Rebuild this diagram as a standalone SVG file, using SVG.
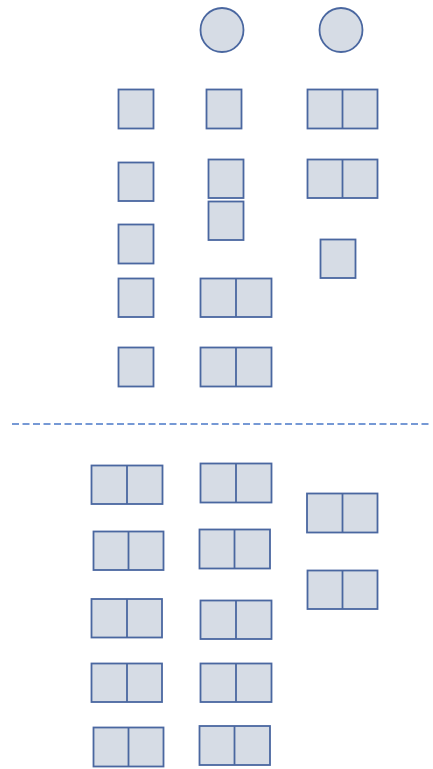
<svg xmlns="http://www.w3.org/2000/svg" width="433" height="769" viewBox="0 0 433 769">
<style>
.b{fill:#D6DCE5;stroke:#4A67A0;stroke-width:1.8}
.d{fill:none;stroke:#4A67A0;stroke-width:1.8}
.sep{stroke:#4A78C8;stroke-width:1.3;stroke-dasharray:7 3.5;fill:none}
</style>
<rect width="433" height="769" fill="#fff"/>
<g id="circle1"><ellipse class="b" cx="222" cy="30" rx="21.5" ry="22"/></g>
<g id="circle2"><ellipse class="b" cx="341" cy="30" rx="21.5" ry="22"/></g>

<g id="c1r1"><rect class="b" x="118.5" y="89.5" width="35" height="39"/></g>
<g id="c1r2"><rect class="b" x="118.5" y="162.5" width="35" height="38.5"/></g>
<g id="c1r3"><rect class="b" x="118.5" y="224.5" width="35" height="39"/></g>
<g id="c1r4"><rect class="b" x="118.5" y="278.5" width="35" height="38.5"/></g>
<g id="c1r5"><rect class="b" x="118.5" y="347.5" width="35" height="39"/></g>

<g id="c2r1"><rect class="b" x="206.5" y="89.5" width="35" height="39"/></g>
<g id="c2r2"><rect class="b" x="208.5" y="159.5" width="35" height="38.5"/></g>
<g id="c2r3"><rect class="b" x="208.5" y="201.5" width="35" height="38.5"/></g>
<g id="c2r4"><rect class="b" x="200.5" y="278.5" width="71" height="38.5"/><line class="d" x1="236" y1="278.5" x2="236" y2="317"/></g>
<g id="c2r5"><rect class="b" x="200.5" y="347.5" width="71" height="39"/><line class="d" x1="236" y1="347.5" x2="236" y2="386.5"/></g>

<g id="c3r1"><rect class="b" x="307.5" y="89.5" width="70" height="39"/><line class="d" x1="342.5" y1="89.5" x2="342.5" y2="128.5"/></g>
<g id="c3r2"><rect class="b" x="307.5" y="159.5" width="70" height="38.5"/><line class="d" x1="342.5" y1="159.5" x2="342.5" y2="198"/></g>
<g id="c3r3"><rect class="b" x="320.5" y="239.5" width="35" height="38.5"/></g>

<g id="connectors"><line class="sep" x1="12" y1="424" x2="432" y2="424"/></g>

<g id="l1r1"><rect class="b" x="91.5" y="465.5" width="71" height="38.5"/><line class="d" x1="127" y1="465.5" x2="127" y2="504"/></g>
<g id="l1r2"><rect class="b" x="93.5" y="531.5" width="70" height="38.5"/><line class="d" x1="128.5" y1="531.5" x2="128.5" y2="570"/></g>
<g id="l1r3"><rect class="b" x="91.5" y="599" width="70.5" height="38.5"/><line class="d" x1="127" y1="599" x2="127" y2="637.5"/></g>
<g id="l1r4"><rect class="b" x="91.5" y="663.5" width="70.5" height="38.5"/><line class="d" x1="127" y1="663.5" x2="127" y2="702"/></g>
<g id="l1r5"><rect class="b" x="93.5" y="727.5" width="70" height="39"/><line class="d" x1="128.5" y1="727.5" x2="128.5" y2="766.5"/></g>

<g id="l2r1"><rect class="b" x="200.5" y="463.5" width="71" height="39"/><line class="d" x1="236" y1="463.5" x2="236" y2="502.5"/></g>
<g id="l2r2"><rect class="b" x="199.5" y="529.5" width="70.5" height="39"/><line class="d" x1="234.5" y1="529.5" x2="234.5" y2="568.5"/></g>
<g id="l2r3"><rect class="b" x="200.5" y="600.5" width="71" height="38.5"/><line class="d" x1="236" y1="600.5" x2="236" y2="639"/></g>
<g id="l2r4"><rect class="b" x="200.5" y="663.5" width="71" height="38.5"/><line class="d" x1="236" y1="663.5" x2="236" y2="702"/></g>
<g id="l2r5"><rect class="b" x="199.5" y="726" width="70.5" height="39"/><line class="d" x1="234.5" y1="726" x2="234.5" y2="765"/></g>

<g id="l3r1"><rect class="b" x="307" y="493.5" width="70.5" height="39"/><line class="d" x1="342.5" y1="493.5" x2="342.5" y2="532.5"/></g>
<g id="l3r2"><rect class="b" x="307.5" y="570.5" width="70" height="38.5"/><line class="d" x1="342.5" y1="570.5" x2="342.5" y2="609"/></g>
</svg>
